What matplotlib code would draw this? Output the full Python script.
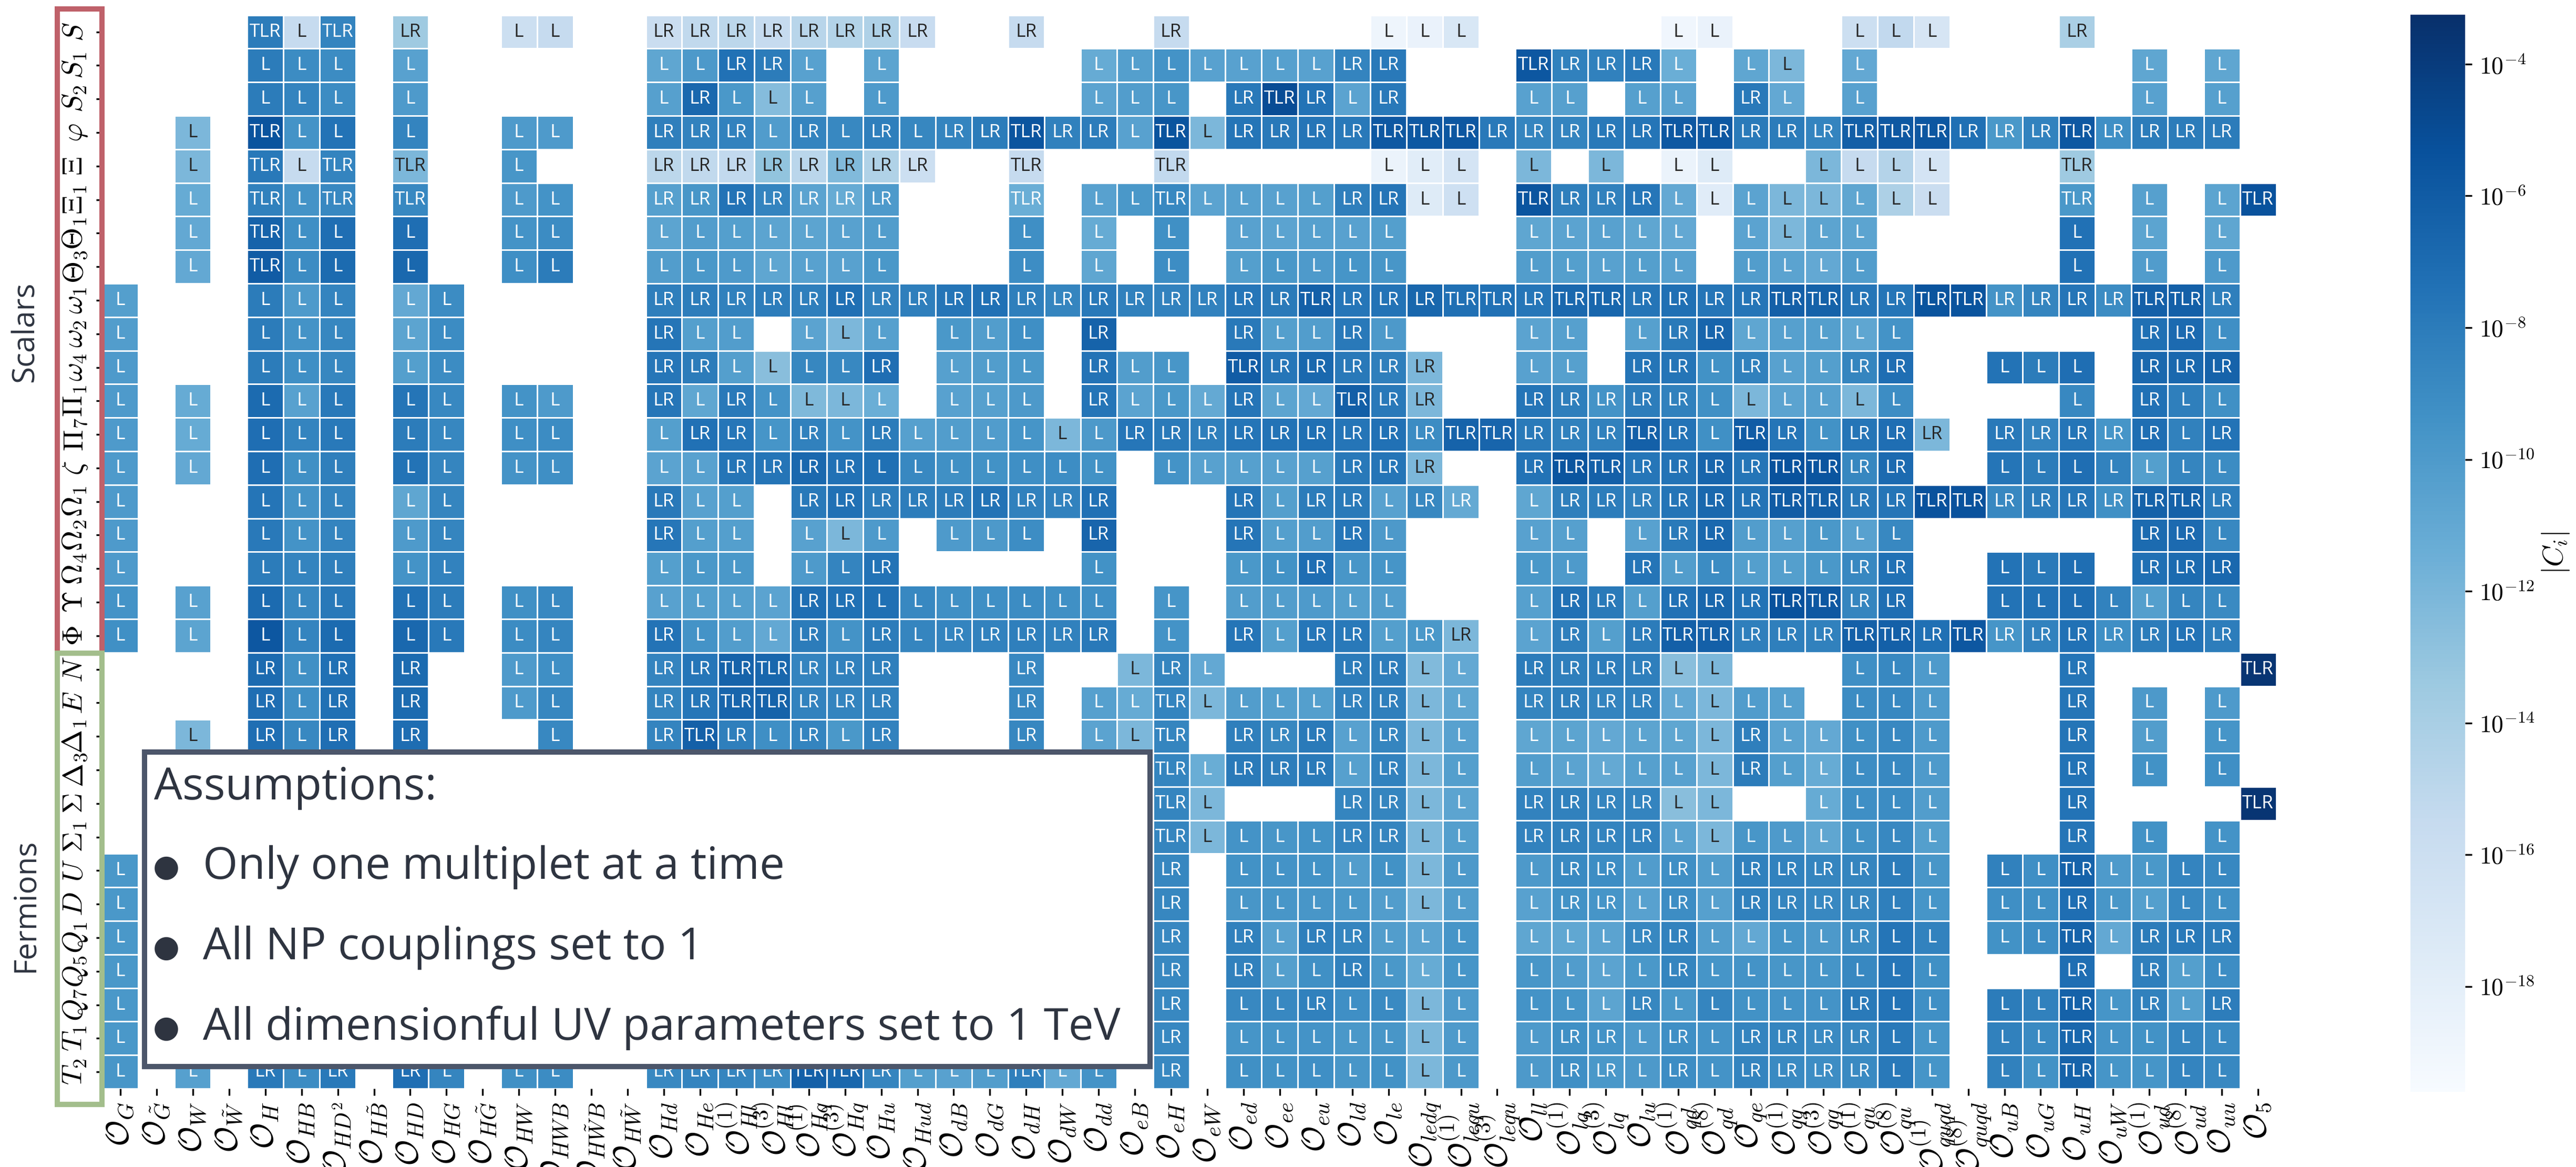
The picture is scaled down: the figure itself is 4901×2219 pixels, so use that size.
import numpy as np
import matplotlib
matplotlib.use("Agg")
import matplotlib.pyplot as plt
import seaborn as sns
from matplotlib.colors import LogNorm
from matplotlib.patches import Rectangle

# operators (columns) and multiplets (rows)
operators = [
    r'G', r'\tilde{G}', r'W', r'\tilde{W}', r'H', r'HB', r'HD^2', r'H\tilde{B}', r'HD', r'HG',
    r'H\tilde{G}', r'HW', r'HWB', r'H\tilde{W}B', r'H\tilde{W}', r'Hd', r'He', r'Hl}^{(1)', r'Hl}^{(3)', r'Hq}^{(1)',
    r'Hq}^{(3)', r'Hu', r'Hud', r'dB', r'dG', r'dH', r'dW', r'dd', r'eB', r'eH',
    r'eW', r'ed', r'ee', r'eu', r'ld', r'le', r'ledq', r'lequ}^{(1)', r'lequ}^{(3)', r'll',
    r'lq}^{(1)', r'lq}^{(3)', r'lu', r'qd}^{(1)', r'qd}^{(8)', r'qe', r'qq}^{(1)', r'qq}^{(3)', r'qu}^{(1)', r'qu}^{(8)',
    r'quqd}^{(1)', r'quqd}^{(8)', r'uB', r'uG', r'uH', r'uW', r'ud}^{(1)', r'ud}^{(8)', r'uu', r'5',
]
scalars = [r'S', r'S_1', r'S_2', r'\varphi', r'\Xi', r'\Xi_1', r'\Theta_1', r'\Theta_3', r'\omega_1', r'\omega_2',
           r'\omega_4', r'\Pi_1', r'\Pi_7', r'\zeta', r'\Omega_1', r'\Omega_2', r'\Omega_4', r'\Upsilon', r'\Phi']
fermions = [r'N', r'E', r'\Delta_1', r'\Delta_3', r'\Sigma', r'\Sigma_1', r'U', r'D', r'Q_1', r'Q_5', r'Q_7',
            r'T_1', r'T_2']

# cell = matching label + (-log10 |C_i|), "." = no contribution (or hidden under the box)
scalar_cells = [
    ". . . . TLR8 L15.5 TLR8.5 . LR13.5 . . L16 L15.5 . . | LR15.8 LR15.2 LR15 LR15.5 LR14.8 LR14.5 LR14.3 LR15.7 . . LR15.5 . . . LR15.5 | . . . . . L18.8 L18.5 L17 . . . . . L19 L18.5 | . . . L16 L15.3 L16.8 . . . LR14.1 . . . . .",
    ". . . . L8 L9 L9 . L10.5 . . . . . . | L10.8 L9.9 LR7.4 LR8 L10.5 . L10.7 . . . . . L11.2 L10.3 L9.5 | L10.5 L10.5 L10.4 L10.5 LR8.5 LR7.8 . . . TLR5.7 LR8.3 LR8.3 LR7.8 L11.4 . | L10.8 L12.1 . L11 . . . . . . . L10.8 . L10.8 .",
    ". . . . L8 L8.5 L9 . L10 . . . . . . | L10.4 LR6.8 L9.8 L12.5 L10.4 . L10 . . . . . L10.6 L10.2 L9.7 | . LR7.8 TLR5 LR7.5 L10.6 LR7.8 . . . L10.5 L10.4 . L10.4 L10.6 . | LR7.8 L11 . L10.5 . . . . . . . L10.5 . L10.4 .",
    ". . L12.1 . TLR5.5 L9.5 L7.5 . L8.5 . . L10 L10 . . | LR8.2 LR8.4 LR8.4 L10.1 LR8.5 L8.8 LR8.2 L8.7 LR8.5 LR8 TLR5.6 LR8.3 LR8.1 L10.5 TLR5.5 | L12.1 LR7.6 LR7.8 LR7.6 LR7.8 TLR5.8 TLR5.8 TLR5.7 LR7.8 LR8.6 LR8.5 LR7.8 LR7.6 TLR5.8 TLR5.8 | LR7.9 LR8 LR8.5 TLR6.2 TLR5.8 TLR5.7 LR7.3 LR9.8 LR8.4 TLR5.8 LR9.2 LR8 LR8 LR8 .",
    ". . L12.1 . TLR7.8 L15.5 TLR8.5 . TLR12.1 . . L9.7 . . . | LR15 LR15.2 LR15.3 LR13 LR14.9 LR12.3 LR14.4 LR16 . . TLR15.5 . . . TLR15.3 | . . . . . L18.6 L17.8 L16.7 . L12.1 . L12.1 . L18.6 L17.5 | . . L12.1 L15.5 L14.6 L16.7 . . . TLR13.5 . . . . .",
    ". . L11.2 . TLR8.3 L9.5 TLR8.8 . TLR8.8 . . L10 L9.5 . . | LR10.4 LR9.7 LR7.5 LR8.5 LR10.6 LR11.2 LR10 . . . TLR11.4 . L10.5 L9.8 TLR8.8 | L10.6 L10.4 L10.5 L10.3 LR8.2 LR7.6 L17.5 L16.2 . TLR5.6 LR8.2 LR8.3 LR7.7 L11 L17.7 | L10.6 L12.1 L12.1 L10.8 L14.2 L15.8 . . . TLR9.8 . L10.4 . L10.7 TLR5.4",
    ". . L11 . TLR6.5 L9.2 L7.2 . L7.2 . . L9.5 L9 . . | L10.7 L10.2 L10.3 L10.7 L10.7 L10.5 L10.2 . . . L9.2 . L11.2 . L9.3 | . L10.5 L10.6 L10.4 L10.5 L10.3 . . . L10.8 L10.6 L10.5 L10.8 L11 . | L10.6 L12.1 L10.7 L10.7 . . . . . L7.4 . L10.7 . L10.8 .",
    ". . L11 . TLR6 L9 L7 . L6.8 . . L9.2 L8 . . | L10.2 L9.8 L10 L10.8 L10.5 L10.5 L9.8 . . . L9.1 . L10.8 . L9.1 | . L10.3 L9.8 L10 L9.6 L9.7 . . . L10.2 L10.3 L10.5 L10.3 L10.5 . | L10.2 L10.6 L11 L10.2 . . . . . L7.4 . L10.1 . L10 .",
    "L10.3 . . . L8 L10 L8.5 . L11 L9 . . . . . | LR8.2 LR8.1 LR8.3 LR8.1 LR8.2 LR7.3 LR8.4 LR8.2 LR7.6 LR7.4 LR8.2 LR8.6 LR7.8 LR8.3 LR8.4 | LR8.4 LR7.7 LR7.9 TLR6.3 LR7.7 LR7.5 LR6.7 TLR7.3 TLR7.4 LR7.7 TLR6.8 TLR6.7 LR7.6 LR7.3 LR7.6 | LR7.6 TLR6.3 TLR6.4 LR7.6 LR7.6 TLR5.5 TLR5.5 LR9.5 LR8.6 LR7.6 LR9 TLR6.3 TLR6.3 LR8.2 .",
    "L10.2 . . . L8 L9.5 L8.7 . L10.7 L9 . . . . . | LR7.6 L10.3 L10.2 . L10.6 L12.1 L10.4 . L9.8 L10.2 L9.2 . LR6.5 . . | . LR7.8 L10.3 L10.2 LR7.8 L9.9 . . . L10.6 L10.4 . L10.4 LR7.9 LR6.6 | L10.8 L10.4 L10.3 L10.8 L9.5 . . . . . . LR7.3 LR6.9 L9.2 .",
    "L10 . . . L8 L9.2 L8.7 . L10.3 L9 . . . . . | LR7.7 LR8 L10.3 L12.6 L8.7 L8.8 LR7.2 . L10.4 L10.2 L9.8 . LR7.5 L10.2 L9.7 | . TLR6 LR7.7 LR6.8 LR7.8 LR8.2 LR12.1 . . L10.5 L10.4 . LR7.6 LR7.6 L9.4 | LR8.3 L10.5 L10.3 LR8.6 LR7.2 . . L7.5 L8 L7.2 . LR6.8 LR6.8 LR6.5 .",
    "L10 . L11.2 . L7 L10.5 L7.8 . L7.6 L8.8 . L9.5 L10 . . | LR7.7 L10.8 LR7.8 L9.5 L12.2 L12.1 L11.4 . L10.5 L10.4 L9.9 . LR7.6 L10.6 L9.8 | L11.1 LR7.6 L10.7 L11 TLR6.2 LR7.8 LR12.1 . . LR7.6 LR8.2 LR9.5 LR8.1 LR8.3 L9.3 | L12.1 L10.6 L10.4 L12.1 L9.1 . . . . L8.8 . LR7.4 L8.2 L9.3 .",
    "L10 . L11.2 . L7.2 L8.5 L7.8 . L8 L8.7 . L9.2 L9 . . | L10.3 LR7.4 LR7.7 L9.6 LR8.3 L9.5 LR8 L10.4 L10.2 L10.1 L9.6 L12.1 L9.9 LR7.7 LR7.9 | LR8.2 LR7.6 LR7.5 LR7.3 LR7.6 LR7.4 LR9 TLR6.5 TLR6.6 LR7.9 LR8.3 LR8.3 TLR6.3 LR7.5 L9.3 | TLR6 LR7.6 L9.4 LR7.6 LR7.2 LR12.1 . LR7.8 LR8.5 LR7.6 LR9.6 LR7.2 L8.3 LR7.5 .",
    "L10 . L11 . L7.2 L9.3 L8.2 . L7.5 L8.6 . L9.5 L9.2 . . | L10.6 L10.5 LR7.6 LR7.6 LR6.8 LR7.4 L7.3 L8.8 L9.3 L9.4 L9.2 L9.1 L9.4 . L9.5 | L10.5 L10.4 L10.5 L10.4 LR7.8 LR7.6 LR12.1 . . LR7.5 TLR5.6 TLR6.3 LR7.7 LR7.5 LR6.6 | LR7.6 TLR5.4 TLR5.6 LR8.7 LR6.9 . . L7.6 L8 L7.2 L8.4 L10.3 L8.6 L9 .",
    "L10 . . . L7.6 L9.5 L8.5 . L10.8 L8.6 . . . . . | LR7.8 L10.5 L10.3 . LR7.8 LR7.4 LR8.1 LR8.1 LR8 LR7.5 LR8.3 LR8.4 LR7.4 . . | . LR7.6 L10.3 LR8 LR7.9 L10.5 LR8.8 LR11.1 . L10.8 LR8.2 LR8.1 LR8.3 LR7.6 LR6.8 | LR7.5 TLR6 TLR6.3 LR7.8 LR7.6 TLR5.4 TLR5.4 LR8.8 LR8.1 LR7.7 LR9.3 TLR6.4 TLR6.4 LR8.1 .",
    "L10 . . . L7.8 L9.5 L8.5 . L10 L8.6 . . . . . | LR7.7 L10.3 L10.3 . L10.5 L12.1 L10 . L10 L9.9 L9.1 . LR6.6 . . | . LR7.6 L10.3 L10.2 LR7.7 L9.9 . . . L10.5 L10.4 . L10.5 LR7.9 LR6.8 | L10.2 L10.4 L9.8 L10.5 L8.8 . . . . . . LR7 LR6.9 L8.8 .",
    "L10 . . . L8 L8.5 L8.2 . L9.5 L8.4 . . . . . | L10.3 L9.8 L9.8 . L10 L8.5 LR7.5 . . . . . L9.4 . . | . L9.8 L9.4 LR7.2 L9.7 L9.6 . . . L9.8 L10 . LR7.6 L10.2 L9 | L10.3 L10.3 L9.8 LR8.8 LR7.4 . . L7.5 L7.8 L7.2 . LR7.3 LR7 LR6.8 .",
    "L9.5 . L10.5 . L7 L8.8 L7.8 . L7.4 L8 . L9.3 L8.8 . . | L10.5 L10.3 L10.3 L10.6 LR7.2 LR7.4 L7.3 L8.8 L9.3 L9.2 L9 L9.3 L9.2 . L9.6 | . L10.2 L10.2 L10 L10.3 L10.2 . . . L10.4 LR7.4 LR7.9 L10.3 LR7.4 LR6.7 | LR7.5 TLR5.4 TLR5.8 LR8.6 LR7.2 . . L7.5 L7.4 L7.1 L8.4 L10.3 L8.6 L8.9 .",
    "L9.3 . L10.7 . L5.7 L8.5 L7 . L6.8 L7.8 . L9 L8.6 . . | LR7.5 L9.5 L10.2 L11 LR8 L9.5 LR8 L8.6 LR8.5 LR8.4 LR8.2 LR8.3 LR7.8 . L9.5 | . LR7.6 L10.3 LR7.7 LR7.8 L10.3 LR9.8 LR12.1 . L10.6 LR8.2 L10.3 LR8 TLR6.3 TLR6.3 | LR8.2 LR8.2 LR8.3 TLR6.3 TLR6.3 LR7.3 TLR5.7 LR9.6 LR8.4 LR7.4 LR9.2 LR8 LR7.5 LR8.1 .",
]
fermion_cells = [
    ". . . . LR7 L9.3 LR7.3 . LR7 . . L10 L9.2 . . | LR8.5 LR7.7 TLR6.5 TLR6.7 LR8.5 LR8.3 LR8.2 . . . LR8.8 . . L12.1 LR8.6 | L11 . . . LR8 LR8.1 L12.3 L11 . LR8 LR8.2 LR8.1 LR8.2 L12.6 L12.1 | . . . L9.2 L8.8 L10 . . . LR7.6 . . . . TLR3.6",
    ". . . . LR7.2 L9.2 LR7.3 . LR7 . . L10 L8.7 . . | LR8.6 LR7.7 TLR6.6 TLR6.5 LR8.4 LR8.5 LR8.3 . . . LR8.8 . L10.4 L11.2 TLR8.5 | L12.1 L10.2 L10.3 L10.3 LR8.4 LR8.2 L12.1 L10.8 . LR8.6 LR8.2 LR8.5 LR8.4 L11 L12.1 | L10.1 L10.4 . L9 L8.8 L10 . . . LR7.6 . L9.9 . L10 .",
    ". . L12.1 . LR7.2 L8.8 LR7.2 . LR7.1 . . . L8.8 . . | LR8.5 TLR6.3 LR8.2 L9.2 LR8.5 L9.8 LR8.4 . . . LR8.7 . L10.6 L12.1 TLR8.6 | . LR8.2 LR8.7 LR7.9 L10.5 LR8.6 L12.1 L10.5 . L10.8 L10.7 L11 L10.7 L10.8 L12.1 | LR8.2 L10.6 L11 L9.3 L8.8 L10 . . . LR7.6 . L10.2 . L9.6 .",
    ". . . . . . . . . . . . . . . | . . . . . . . . . . . . . . TLR8.6 | L11.3 LR7.9 LR8.1 LR7.9 L10.4 LR8.4 L12.1 L10.3 . L10.2 L10.6 L11.1 L10.4 L10.5 L12.1 | LR8 L10.3 L11.2 L9.1 L8.8 L10 . . . LR7.5 . L9.4 . L9.2 .",
    ". . . . . . . . . . . . . . . | . . . . . . . . . . . . . . TLR8.6 | L12.1 . . . LR8.6 LR8.6 L12.1 L10.7 . LR8.4 LR8.3 LR8.6 LR8.5 L12.6 L12.1 | . . L11.2 L9.2 L9 L10.2 . . . LR7.5 . . . . TLR3.6",
    ". . . . . . . . . . . . . . . | . . . . . . . . . . . . . . TLR8.6 | L12.1 L9.5 L9.7 L9.4 LR8.5 LR8.6 L12.1 L10.3 . LR8.4 LR8.3 LR8.5 LR8.4 L10.6 L12.1 | L9.7 L10 L10.8 L9.4 L8.8 L10.3 . . . LR7.6 . L9.4 . L9.5 .",
    "L9.8 . . . . . . . . . . . . . . | . . . . . . . . . . . . . . LR8.7 | . L9.4 L9.5 L9.4 L10.2 L9.4 L12.1 L9.9 . L9.9 LR8.9 LR9.1 L10.1 LR9.2 L10.2 | LR8.3 LR8.4 LR8.6 LR8.6 L8 L9.7 . L8.3 L9.2 TLR6.5 L10 L9.8 L8.5 L8.8 .",
    "L9.8 . . . . . . . . . . . . . . | . . . . . . . . . . . . . . LR8.7 | . L9.7 L9.7 L9.7 L9.8 L10.2 L12.1 L10.2 . L10.5 LR9.4 LR9.6 L10.5 LR9.1 L10.4 | LR8.3 LR8.6 LR8.8 LR8.7 L8.2 L9.6 . L9.2 L9.3 LR7.2 L9.7 L10.3 L8.8 L9.3 .",
    "L9.8 . . . . . . . . . . . . . . | . . . . . . . . . . . . . . LR8.8 | . LR8.3 L10.5 LR8.2 LR8.6 L10.2 L10.6 L9.6 . L10.8 L10.9 L10.6 LR8.8 LR8.4 L10.2 | L11 L9.6 L9.9 LR9 L7.6 L8.4 . L9.4 L9.1 TLR6.5 L11 LR8 LR7.8 LR8 .",
    "L9.8 . . . . . . . . . . . . . . | . . . . . . . . . . . . . . LR8.8 | . LR8.3 L10.3 L9.3 LR8.3 L9.8 L11.2 L9.6 . L9.7 L10.1 L10.6 L9.8 LR8.6 L9.6 | L9.5 L9.7 L9.6 L8.8 L7.7 L9.3 . . . LR7.2 . LR8.2 L10.3 L9.1 .",
    "L9.8 . . . . . . . . . . . . . . | . . . . . . . . . . . . . . LR8.8 | . L8.8 L8.8 LR8.3 L9.2 L8.9 L12.1 L10 . L9.5 L9.6 L10.7 LR8.7 L9.8 L8.6 | L9.4 L9.5 L9.5 LR7.9 L7.5 L9.2 . L8 L8.3 TLR6.4 L9.6 LR8.3 L10.3 LR8.1 .",
    "L9.8 . . . . . . . . . . . . . . | . . . . . . . . . . . . . . LR8.8 | . L9.6 L9.6 L9.5 L9.8 L9.7 L12.1 L10 . L10 LR9.3 LR9.5 L10 LR9.2 L9.5 | LR8.5 LR8.6 LR8.9 LR8.7 L7.8 L9.6 . L8.3 L8.9 TLR6.7 L9.5 L9.4 L8.6 L8.9 .",
    "L9.7 . L10.4 . LR7.8 L9 LR7.8 . LR7.2 L8.6 . L9.3 L9 . . | LR8.8 LR8.5 LR8.6 LR9 TLR6.3 TLR6.7 LR8.6 L10.3 L10.5 L10.2 TLR8.2 L11 L9.5 . LR8.8 | . L9.3 L9.4 L9.2 L9.7 L9.4 L12.1 L9.9 . L9.9 LR9.2 LR9.8 L9.9 LR9.1 L9.5 | LR8.5 LR8.9 LR9.1 LR8.9 L7.8 L9.6 . L8.3 L9.4 TLR6.5 L9.6 L9.6 L8.5 L8.8 .",
]

assumptions = ['Only one multiplet at a time', 'All NP couplings set to 1',
               'All dimensionful UV parameters set to 1 TeV']


def parse(rows):
    vals, labs = [], []
    for r in rows:
        toks = r.replace('|', ' ').split()
        assert len(toks) == len(operators), (len(toks), r[:40])
        vrow, lrow = [], []
        for t in toks:
            if t == '.':
                vrow.append(np.nan)
                lrow.append('')
            else:
                lab = t.rstrip('0123456789.')
                vrow.append(10.0 ** (-float(t[len(lab):])))
                lrow.append(lab)
        vals.append(vrow)
        labs.append(lrow)
    return vals, labs


sv, sl = parse(scalar_cells)
fv, fl = parse(fermion_cells)
values = np.array(sv + fv)
labels = np.array(sl + fl)

plt.rcParams['mathtext.fontset'] = 'cm'
plt.rcParams['font.family'] = ['Open Sans', 'DejaVu Sans']

W, H = 4901, 2219
fig = plt.figure(figsize=(W / 300, H / 300), dpi=300)
ax = fig.add_axes([194.5 / W, 1 - 2070 / H, 4136 / W, 2041.3 / H])
cax = fig.add_axes([4586 / W, 1 - 2076 / H, 104 / W, 2048 / H])

xlabels = [r'$\mathcal{O}_{%s}$' % s for s in operators]
ylabels = ['$%s$' % s for s in scalars + fermions]

sns.heatmap(values, mask=np.isnan(values), annot=labels, fmt='', cmap='Blues',
            norm=LogNorm(vmin=10 ** -19.6, vmax=10 ** -3.25),
            linewidths=0.6, linecolor='white', annot_kws={'fontsize': 8.5},
            xticklabels=xlabels, yticklabels=ylabels, ax=ax, cbar_ax=cax)

ax.set_xticklabels(xlabels, rotation=90, fontsize=14.5)
ax.set_yticklabels(ylabels, rotation=90, va='center', fontsize=13)
ax.tick_params(axis='both', length=3, width=0.8, pad=3)

# colorbar
cbar = ax.collections[0].colorbar
cbar.outline.set_visible(False)
exps = list(range(-4, -19, -2))
cbar.ax.minorticks_off()
cbar.set_ticks([10.0 ** e for e in exps])
cbar.set_ticklabels([r'$10^{%d}$' % e for e in exps])
cbar.ax.tick_params(labelsize=11, length=3, width=0.8)
fig.text(4862 / W, 1 - 1052 / H, r'$|C_i|$', rotation=90, ha='center', va='center', fontsize=13)

# group brackets
text_col = '#2e3440'
fig.add_artist(Rectangle((109 / W, 1 - 1242 / H), 85 / W, 1225 / H, transform=fig.transFigure,
                         fill=False, edgecolor='#bf616a', lw=2.4))
fig.add_artist(Rectangle((109 / W, 1 - 2100 / H), 85 / W, 858 / H, transform=fig.transFigure,
                         fill=False, edgecolor='#a3be8c', lw=2.4))
fig.text(48 / W, 1 - 631 / H, 'Scalars', rotation=90, ha='center', va='center', fontsize=14, color=text_col)
fig.text(48 / W, 1 - 1722 / H, 'Fermions', rotation=90, ha='center', va='center', fontsize=14, color=text_col)

# assumptions box
fig.add_artist(Rectangle((275 / W, 1 - 2028 / H), 1913 / W, 598 / H, transform=fig.transFigure,
                         facecolor='white', edgecolor='#4c566a', lw=2.4, zorder=10))
fig.text(293 / W, 1 - 1498 / H, 'Assumptions:', ha='left', va='center', fontsize=20.5, color=text_col, zorder=11)
for i, line in enumerate(assumptions):
    y = 1 - (1649 + 153 * i) / H
    fig.text(316 / W, y, '\u25cf', ha='center', va='center', fontsize=14, color=text_col, zorder=11,
             family='DejaVu Sans')
    fig.text(386 / W, y, line, ha='left', va='center', fontsize=20.5, color=text_col, zorder=11)

fig.savefig('out.png', dpi=300)
